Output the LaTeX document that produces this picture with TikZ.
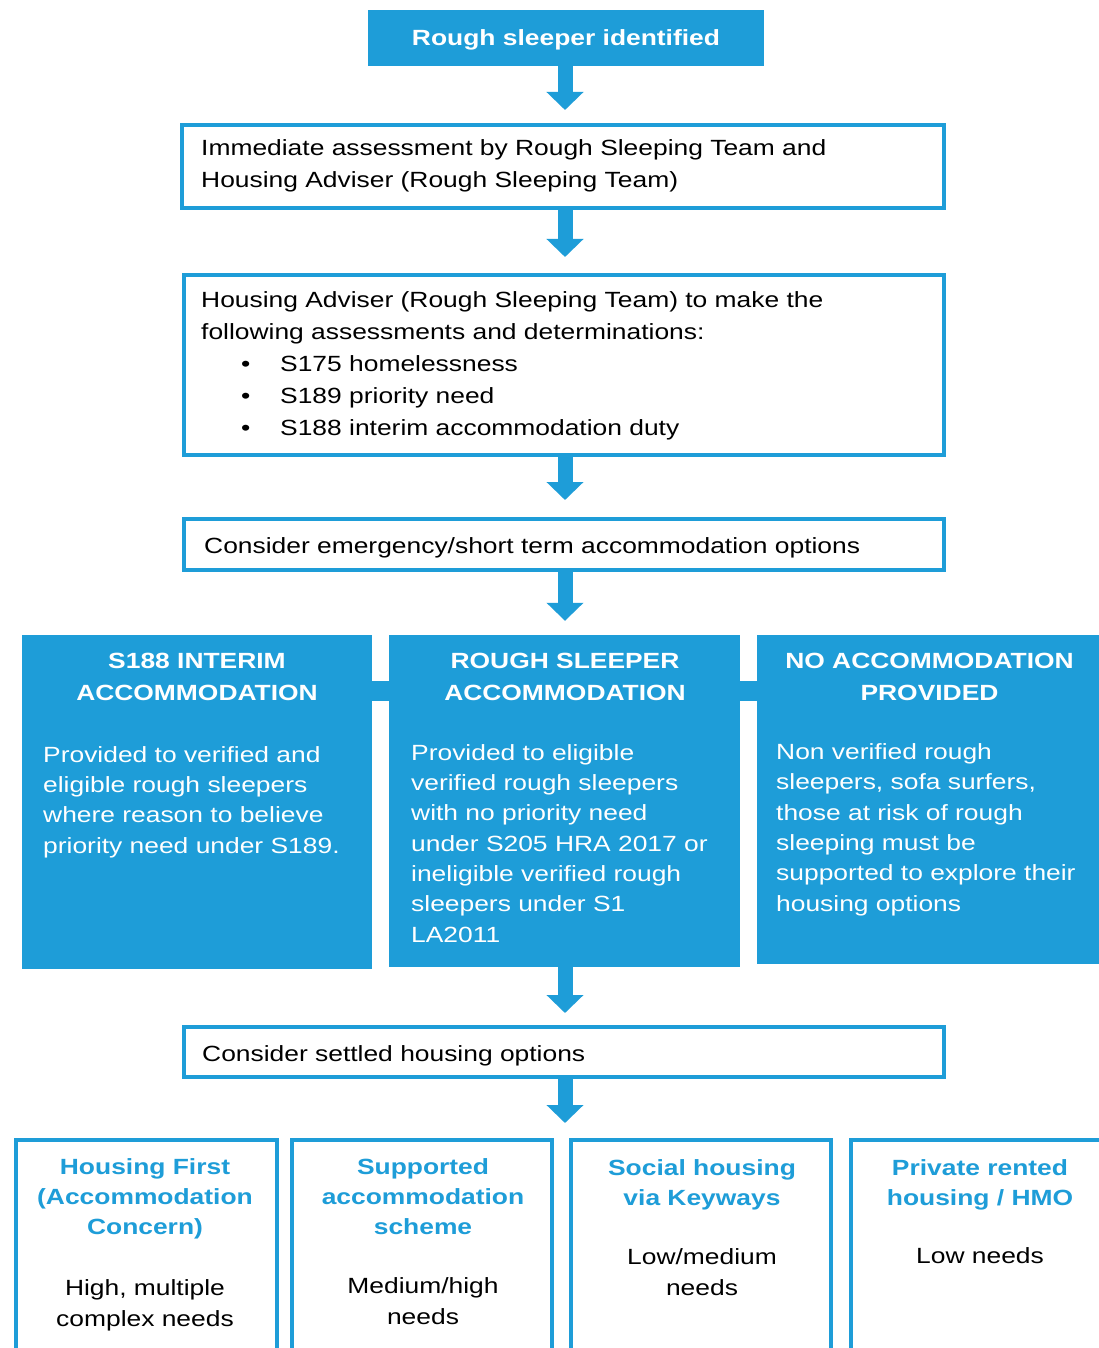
\documentclass[tikz,border=0pt]{standalone}
\usepackage{fontspec}
\setmainfont{Liberation Sans}[FakeStretch=1.2]
\usetikzlibrary{arrows.meta}
\definecolor{rsblue}{RGB}{30,157,216}
\tikzset{
  fillbox/.style={rectangle, fill=rsblue, draw=none, inner sep=0pt},
  linebox/.style={rectangle, draw=rsblue, line width=4pt, fill=white, inner sep=0pt},
  flowarrow/.style={draw=rsblue, line width=15pt, -{Triangle[width=36pt,length=18pt]}},
  linkbar/.style={draw=rsblue, line width=20pt},
  txt/.style={inner sep=0pt, font=\fontsize{22}{32}\selectfont, text=black, align=left, anchor=base west},
  whitehead/.style={inner sep=0pt, font=\fontsize{22}{32}\selectfont\bfseries, text=white, align=center, anchor=base},
  whitebody/.style={inner sep=0pt, font=\fontsize{22}{30.3}\selectfont, text=white, align=left, anchor=base west},
  bluehead/.style={inner sep=0pt, font=\fontsize{22}{30}\selectfont\bfseries, text=rsblue, align=center, anchor=base},
  darkbody/.style={inner sep=0pt, font=\fontsize{22}{30.5}\selectfont, text=black, align=center, anchor=base},
}
\begin{document}
\begin{tikzpicture}[x=1pt,y=-1pt]
\useasboundingbox (0,0) rectangle (1099,1348);
\clip (0,0) rectangle (1099,1348);
\fill[white] (0,0) rectangle (1099,1348);

% boxes
\node[fillbox, minimum width=396pt, minimum height=56pt] (top) at (566,38) {};
\node[linebox, minimum width=762pt, minimum height=83pt] (assess) at (563,166.5) {};
\node[linebox, minimum width=760pt, minimum height=180pt] (determ) at (564,365) {};
\node[linebox, minimum width=760pt, minimum height=51pt] (emerg) at (564,544.5) {};
\node[fillbox, minimum width=350pt, minimum height=334pt] (interim) at (197,802) {};
\node[fillbox, minimum width=351pt, minimum height=332pt] (rsacc) at (564.5,801) {};
\node[fillbox, minimum width=348pt, minimum height=329pt] (noacc) at (931,799.5) {};
\node[linebox, minimum width=760pt, minimum height=50pt] (settled) at (564,1052) {};
\node[linebox, minimum width=261pt, minimum height=260pt] (hfirst) at (146.5,1270) {};
\node[linebox, minimum width=260pt, minimum height=260pt] (supp) at (422,1270) {};
\node[linebox, minimum width=260pt, minimum height=260pt] (social) at (701,1270) {};
\node[linebox, minimum width=260pt, minimum height=260pt] (private) at (981,1270) {};

% linking bars
\draw[linkbar] (interim.east |- 0,691) -- (rsacc.west |- 0,691);
\draw[linkbar] (rsacc.east |- 0,691) -- (noacc.west |- 0,691);

% arrows
\coordinate (c1) at (565,66);
\draw[flowarrow, shorten >=13pt] (c1 |- top.south) -- (c1 |- assess.north);
\draw[flowarrow, shorten >=16pt] (c1 |- assess.south) -- (c1 |- determ.north);
\draw[flowarrow, shorten >=17pt] (c1 |- determ.south) -- (c1 |- emerg.north);
\draw[flowarrow, shorten >=14pt] (c1 |- emerg.south) -- (c1 |- rsacc.north);
\draw[flowarrow, shorten >=12pt] (c1 |- rsacc.south) -- (c1 |- settled.north);
\coordinate (t6) at (565,1123);
\draw[flowarrow] (c1 |- settled.south) -- (t6);

% texts (base anchor = baseline of the last line)
\node[whitehead] (toptxt) at (566,46) {Rough sleeper identified};
\node[txt] (assesstxt) at (201,188) {Immediate assessment by Rough Sleeping Team and\\Housing Adviser (Rough Sleeping Team)};
\node[txt] (determtxt) at (201,435) {Housing Adviser (Rough Sleeping Team) to make the\\following assessments and determinations:\\
\hspace*{40pt}\makebox[39pt][l]{•}S175 homelessness\\
\hspace*{40pt}\makebox[39pt][l]{•}S189 priority need\\
\hspace*{40pt}\makebox[39pt][l]{•}S188 interim accommodation duty};
\node[txt] (emergtxt) at (204,553) {Consider emergency/short term accommodation options};

\node[whitehead] (interimhead) at (197,700) {S188 INTERIM\\ACCOMMODATION};
\node[whitebody] (interimbody) at (43,853) {Provided to verified and\\eligible rough sleepers\\where reason to believe\\priority need under S189.};
\node[whitehead] (rsacchead) at (565,700) {ROUGH SLEEPER\\ACCOMMODATION};
\node[whitebody] (rsaccbody) at (411,942) {Provided to eligible\\verified rough sleepers\\with no priority need\\under S205 HRA 2017 or\\ineligible verified rough\\sleepers under S1\\LA2011};
\node[whitehead] (noacchead) at (929.5,700) {NO ACCOMMODATION\\PROVIDED};
\node[whitebody] (noaccbody) at (776,911) {Non verified rough\\sleepers, sofa surfers,\\those at risk of rough\\sleeping must be\\supported to explore their\\housing options};

\node[txt] (settledtxt) at (202,1061) {Consider settled housing options};

\node[bluehead] (hfirsthead) at (145,1234) {Housing First\\(Accommodation\\Concern)};
\node[darkbody] (hfirstbody) at (145,1326) {High, multiple\\complex needs};
\node[bluehead] (supphead) at (423,1234) {Supported\\accommodation\\scheme};
\node[darkbody] (suppbody) at (423,1324) {Medium/high\\needs};
\node[bluehead] (socialhead) at (702,1205) {Social housing\\via Keyways};
\node[darkbody] (socialbody) at (702,1295) {Low/medium\\needs};
\node[bluehead] (privatehead) at (980,1205) {Private rented\\housing / HMO};
\node[darkbody] (privatebody) at (980,1263) {Low needs};
\end{tikzpicture}
\end{document}
